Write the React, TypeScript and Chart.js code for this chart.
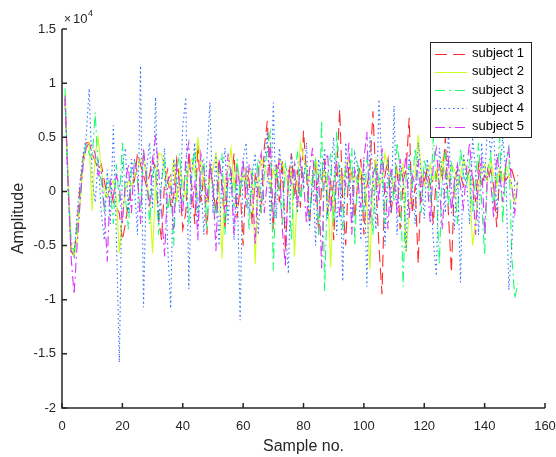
import React, { useEffect, useRef } from "react";
import { Chart, registerables } from "chart.js";

Chart.register(...registerables);

// Amplitude values in units of 10^4, sample no. = index + 1
const subject1 = [
  0.85, 0.10, -0.55, -0.60, -0.30, 0.05, 0.30, 0.45, 0.45, 0.35,
  0.28, 0.20, 0.25, 0.10, -0.05, 0.05, -0.10, -0.15, -0.20, -0.45,
  -0.30, -0.10, 0.05, 0.10, 0.35, 0.25, 0.15, 0.05, 0.15, 0.30,
  0.20, -0.25, -0.45, 0.10, 0.20, -0.15, -0.05, 0.30, 0.10, -0.35,
  -0.20, 0.35, 0.05, -0.30, 0.45, -0.10, 0.15, -0.40, 0.25, 0.05,
  -0.20, 0.30, 0.05, -0.35, 0.15, 0.10, 0.35, -0.25, 0.05, -0.50,
  0.20, 0.10, -0.30, 0.15, 0.05, -0.20, 0.40, 0.65, 0.10, -0.35,
  0.25, -0.10, 0.30, -0.55, 0.10, 0.35, -0.05, 0.20, -0.15, 0.56,
  0.15, -0.30, 0.10, 0.25, -0.40, 0.05, 0.30, -0.20, 0.10, -0.45,
  0.20, 0.76, -0.10, -0.50, 0.25, 0.15, -0.25, 0.10, 0.30, -0.40,
  0.05, 0.20, 0.74, 0.10, -0.50, -0.95, 0.15, 0.30, -0.20, 0.05,
  0.25, -0.35, 0.10, 0.20, 0.68, -0.20, 0.05, -0.67, 0.15, 0.10,
  0.20, 0.05, -0.30, 0.15, 0.25, 0.10, 0.50, -0.20, -0.75, 0.10,
  0.20, 0.15, 0.05, 0.10, 0.20, 0.15, -0.10, 0.25, 0.05, 0.15,
  0.10, 0.20, 0.05, -0.33, 0.15, 0.20, 0.10, 0.15, 0.20, 0.10, 0.15,
];

const subject2 = [
  0.90, 0.20, -0.50, -0.60, -0.45, -0.10, 0.25, 0.40, 0.45, -0.18,
  0.35, 0.50, 0.20, 0.00, -0.05, 0.05, 0.10, -0.05, -0.57, -0.20,
  0.00, 0.10, 0.05, 0.15, 0.20, 0.30, 0.31, 0.10, -0.05, -0.57,
  0.05, 0.35, 0.34, 0.20, 0.10, 0.05, 0.30, -0.10, 0.20, 0.10,
  -0.05, 0.25, 0.30, 0.15, 0.50, 0.25, 0.05, -0.10, 0.10, 0.20,
  0.35, 0.10, -0.62, 0.10, 0.20, 0.40, 0.05, 0.25, 0.10, 0.15,
  0.05, 0.20, 0.15, -0.67, 0.10, 0.30, 0.25, 0.15, 0.05, 0.20,
  0.10, 0.30, 0.25, 0.15, 0.05, 0.20, -0.60, 0.05, 0.45, 0.30,
  0.20, 0.10, 0.05, 0.30, 0.15, 0.10, 0.20, 0.05, -0.70, 0.10,
  0.20, 0.15, 0.05, 0.25, 0.30, 0.10, 0.15, 0.05, 0.20, 0.10,
  -0.10, -0.72, 0.15, 0.30, 0.05, 0.10, 0.35, 0.20, 0.15, 0.05,
  0.20, 0.10, 0.25, -0.56, -0.20, 0.10, 0.15, 0.52, 0.20, 0.05,
  0.15, 0.25, 0.10, 0.20, 0.05, 0.30, 0.15, 0.10, 0.25, 0.20,
  0.05, 0.15, 0.30, 0.20, 0.10, -0.50, -0.30, 0.05, 0.20, 0.25,
  0.10, 0.30, 0.15, 0.05, 0.20, 0.10, 0.25, 0.15, 0.05, -0.10, 0.10,
];

const subject3 = [
  0.95, 0.05, -0.45, -0.55, -0.35, -0.05, 0.30, 0.45, 0.35, 0.30,
  0.73, 0.20, 0.10, -0.20, 0.15, 0.05, -0.30, 0.25, -0.10, 0.45,
  -0.05, -0.35, 0.20, 0.30, 0.10, -0.15, 0.35, 0.20, -0.30, 0.15,
  0.25, -0.40, 0.10, 0.30, -0.20, 0.05, -0.50, 0.20, 0.35, -0.10,
  0.25, -0.30, 0.15, 0.40, -0.20, 0.10, 0.30, -0.35, 0.20, 0.05,
  -0.25, 0.15, 0.35, -0.40, 0.10, 0.20, -0.15, 0.30, -0.05, 0.25,
  0.10, -0.35, 0.20, 0.05, 0.30, -0.20, 0.15, 0.40, 0.55, -0.73,
  0.20, 0.05, -0.30, 0.25, 0.10, -0.45, 0.20, 0.35, -0.10, 0.15,
  0.25, -0.25, 0.10, 0.30, -0.40, 0.66, -0.92, 0.15, 0.35, -0.30,
  0.55, 0.10, -0.35, 0.20, 0.05, 0.40, -0.50, 0.25, 0.10, -0.20,
  0.30, 0.15, -0.40, 0.25, 0.10, 0.35, -0.30, 0.05, 0.20, -0.10,
  0.45, 0.20, -0.88, 0.15, 0.25, 0.05, 0.40, 0.10, -0.20, 0.30,
  0.15, -0.10, 0.50, 0.05, -0.67, 0.20, 0.35, -0.15, 0.25, 0.10,
  -0.30, 0.40, 0.15, 0.05, 0.30, -0.20, 0.10, 0.45, -0.10, -0.58,
  0.20, 0.35, -0.15, 0.10, 0.50, -0.30, 0.25, 0.40, -0.60, -0.99, -0.85,
];

const subject4 = [
  0.85, 0.00, -0.50, -0.60, -0.20, 0.10, 0.35, 0.50, 0.95, 0.10,
  -0.10, 0.30, -0.20, -0.45, 0.20, -0.30, 0.61, -0.40, -1.58, 0.25,
  0.40, -0.20, 0.30, 0.05, -0.40, 1.16, -1.07, 0.20, 0.45, -0.15,
  0.87, -0.30, 0.10, 0.40, -0.50, -1.08, 0.30, 0.15, -0.20, 0.60,
  0.87, -0.90, 0.20, 0.45, -0.35, 0.10, -0.40, 0.30, 0.82, -0.20,
  0.35, -0.50, 0.15, 0.40, -0.30, 0.20, -0.45, 0.10, -1.19, 0.30,
  0.45, -0.20, 0.15, 0.35, -0.40, 0.10, 0.25, 0.55, -0.30, 0.82,
  -0.25, 0.40, 0.15, -0.30, -0.76, 0.35, 0.10, -0.20, 0.25, 0.05,
  0.45, -0.35, 0.20, -0.50, 0.30, 0.10, 0.40, -0.25, 0.15, 0.50,
  -0.40, 0.25, -0.83, 0.45, 0.10, -0.30, 0.35, 0.20, -0.45, 0.30,
  -0.88, 0.50, 0.15, -0.35, 0.85, 0.20, -0.50, 0.30, -0.20, 0.79,
  -0.40, 0.25, 0.10, -0.55, 0.35, 0.05, -0.30, 0.45, 0.15, -0.25,
  0.30, 0.10, -0.45, -0.78, 0.40, 0.15, -0.20, 0.55, 0.05, -0.35,
  0.25, -0.84, 0.35, 0.10, -0.30, 0.50, 0.20, -0.40, 0.45, 0.10,
  0.65, 0.35, 0.60, -0.20, 0.15, 0.50, 0.20, -0.91, -0.50, 0.10, 0.05,
];

const subject5 = [
  0.88, 0.10, -0.60, -0.95, -0.50, -0.10, 0.25, 0.40, 0.45, 0.42,
  0.35, 0.15, 0.20, -0.15, -0.65, 0.10, -0.05, 0.15, 0.05, -0.30,
  0.10, 0.25, -0.20, 0.30, 0.15, -0.30, 0.40, 0.10, -0.15, 0.30,
  0.50, 0.20, -0.20, -0.60, 0.10, 0.15, -0.35, 0.25, 0.05, -0.20,
  0.30, 0.45, -0.15, 0.10, -0.45, 0.35, 0.20, -0.10, 0.25, 0.05,
  -0.55, 0.30, 0.10, -0.20, 0.35, 0.15, -0.40, 0.20, 0.05, 0.30,
  -0.15, 0.25, 0.10, -0.50, 0.20, 0.35, -0.20, 0.10, 0.45, -0.25,
  0.15, 0.30, -0.35, -0.70, 0.20, 0.05, 0.25, -0.15, 0.30, 0.10,
  -0.30, 0.20, 0.40, -0.10, 0.15, -0.71, 0.25, 0.35, -0.20, 0.10,
  0.30, -0.25, 0.15, 0.05, 0.45, -0.40, 0.20, 0.10, -0.15, 0.30,
  0.55, -0.30, 0.15, 0.25, -0.10, 0.40, 0.05, -0.35, 0.20, 0.15,
  -0.20, 0.30, 0.10, 0.35, -0.25, 0.15, 0.05, 0.30, -0.10, 0.20,
  0.10, -0.30, 0.25, 0.40, 0.05, -0.35, 0.15, 0.30, -0.20, 0.10,
  0.25, 0.05, -0.15, 0.20, 0.45, 0.10, -0.40, 0.15, 0.30, -0.40,
  0.20, 0.10, -0.25, 0.35, 0.15, -0.10, 0.25, 0.40, 0.05, -0.20, 0.10,
];

const seriesNames = ["subject 1", "subject 2", "subject 3", "subject 4", "subject 5"];
const seriesValues = [subject1, subject2, subject3, subject4, subject5];
const seriesColors = ["#ff2a2a", "#ccff1a", "#1aff70", "#2a72ff", "#dd33ff"];
const seriesDashes = [[12, 6], [], [10, 4, 2, 4], [1.5, 3], [10, 4, 2, 4]];

const xTicks = [0, 20, 40, 60, 80, 100, 120, 140, 160];
const yTicks = [-2, -1.5, -1, -0.5, 0, 0.5, 1, 1.5];

const FONT = "'Liberation Sans', Arial, Helvetica, sans-serif";
const AXIS = "#262626";

const overlayPlugin = {
  id: "overlay",
  afterDatasetsDraw(chart: any) {
    const { ctx, chartArea } = chart;
    const { left, right, top, bottom } = chartArea;
    const xs = chart.scales.x;
    const ys = chart.scales.y;
    ctx.save();
    // axes
    ctx.strokeStyle = AXIS;
    ctx.lineWidth = 1.5;
    ctx.setLineDash([]);
    ctx.beginPath();
    ctx.moveTo(left, top);
    ctx.lineTo(left, bottom);
    ctx.lineTo(right, bottom);
    ctx.stroke();
    // inward ticks
    ctx.beginPath();
    yTicks.forEach((v) => {
      const py = ys.getPixelForValue(v);
      ctx.moveTo(left, py);
      ctx.lineTo(left + 5, py);
    });
    xTicks.forEach((v) => {
      const px = xs.getPixelForValue(v);
      ctx.moveTo(px, bottom);
      ctx.lineTo(px, bottom - 5);
    });
    ctx.stroke();

    // exponent label
    ctx.fillStyle = AXIS;
    ctx.textBaseline = "alphabetic";
    ctx.textAlign = "left";
    ctx.font = `12px ${FONT}`;
    ctx.fillText("\u00d7", left + 2, top - 6);
    ctx.font = `13px ${FONT}`;
    ctx.fillText("10", left + 11, top - 6);
    ctx.font = `9px ${FONT}`;
    ctx.fillText("4", left + 26, top - 13);

    // legend
    const lx = 430, ly = 42, lw = 101, lh = 95;
    ctx.fillStyle = "#ffffff";
    ctx.fillRect(lx, ly, lw, lh);
    ctx.strokeStyle = AXIS;
    ctx.lineWidth = 1;
    ctx.strokeRect(lx + 0.5, ly + 0.5, lw, lh);
    ctx.font = `13px ${FONT}`;
    ctx.textBaseline = "middle";
    seriesNames.forEach((name, i) => {
      const cy = 53.5 + i * 18.3;
      ctx.strokeStyle = seriesColors[i];
      ctx.setLineDash(seriesDashes[i]);
      ctx.lineWidth = 1;
      ctx.beginPath();
      ctx.moveTo(435, Math.round(cy) + 0.5);
      ctx.lineTo(467, Math.round(cy) + 0.5);
      ctx.stroke();
      ctx.setLineDash([]);
      ctx.fillStyle = "#000000";
      ctx.fillText(name, 472, cy);
    });
    ctx.restore();
  },
};

export default function App() {
  const canvasRef = useRef<HTMLCanvasElement | null>(null);

  useEffect(() => {
    document.body.style.margin = "0";
    const canvas = canvasRef.current;
    if (!canvas) return;
    const datasets = seriesValues.map((vals, i) => ({
      label: seriesNames[i],
      data: vals.map((v, k) => ({ x: k + 1, y: v })),
      borderColor: seriesColors[i],
      backgroundColor: seriesColors[i],
      borderDash: seriesDashes[i],
      borderWidth: 1.1,
      pointRadius: 0,
      tension: 0,
      fill: false,
      order: 5 - i,
    }));
    const chart = new Chart(canvas, {
      type: "line",
      data: { datasets },
      options: {
        animation: false,
        responsive: false,
        devicePixelRatio: 1,
        layout: { padding: { left: 0, top: 29, right: 11, bottom: 0 } },
        plugins: {
          legend: { display: false },
          tooltip: { enabled: false },
        },
        scales: {
          x: {
            type: "linear",
            min: 0,
            max: 160,
            afterFit: (s: any) => {
              s.height = 49;
              s.paddingLeft = 0;
              s.paddingRight = 0;
            },
            afterBuildTicks: (s: any) => {
              s.ticks = xTicks.map((v) => ({ value: v }));
            },
            grid: { display: false, drawTicks: false },
            border: { display: false },
            ticks: {
              padding: 11,
              color: AXIS,
              font: { family: FONT, size: 13 },
              maxRotation: 0,
              callback: (v: any) => String(v),
            },
            title: {
              display: true,
              text: "Sample no.",
              color: AXIS,
              font: { family: FONT, size: 16 },
              padding: { top: 0, bottom: 1 },
            },
          },
          y: {
            type: "linear",
            min: -2,
            max: 1.5,
            afterFit: (s: any) => {
              s.width = 62;
              s.paddingTop = 0;
              s.paddingBottom = 0;
            },
            afterBuildTicks: (s: any) => {
              s.ticks = yTicks.map((v) => ({ value: v }));
            },
            grid: { display: false, drawTicks: false },
            border: { display: false },
            ticks: {
              padding: 6,
              color: AXIS,
              font: { family: FONT, size: 13 },
              callback: (v: any) => String(Number(v)),
            },
            title: {
              display: true,
              text: "Amplitude",
              color: AXIS,
              font: { family: FONT, size: 16 },
              padding: { top: 9, bottom: 0 },
            },
          },
        },
      },
      plugins: [overlayPlugin],
    });
    return () => chart.destroy();
  }, []);

  return (
    <div style={{ width: 556, height: 457 }}>
      <canvas ref={canvasRef} width={556} height={457} style={{ display: "block" }} />
    </div>
  );
}
